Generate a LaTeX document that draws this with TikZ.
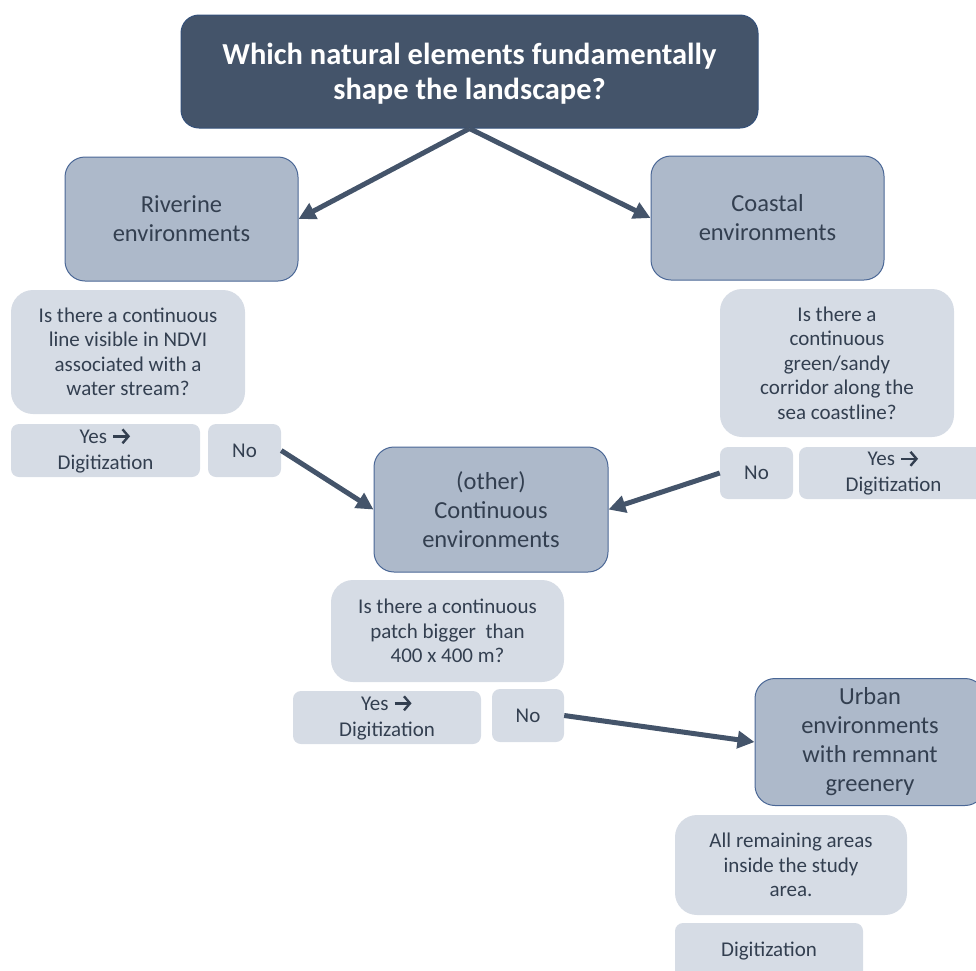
\documentclass[tikz,border=0pt]{standalone}
\usepackage{fontspec}
\setmainfont{Carlito}
\usetikzlibrary{arrows.meta}
\definecolor{titlefill}{HTML}{44546A}
\definecolor{titleborder}{HTML}{34507A}
\definecolor{envfill}{HTML}{ADB9CA}
\definecolor{envborder}{HTML}{4A6796}
\definecolor{qfill}{HTML}{D6DCE5}
\definecolor{txt}{HTML}{333F50}
\definecolor{arrowc}{HTML}{44546A}
\newcommand{\ra}{\tikz[baseline=-7pt]\draw[txt, line width=2.4pt, -{Straight Barb[length=6pt,width=14pt,line width=2.4pt]}] (0pt,0pt) -- (17pt,0pt);}
\begin{document}
\begin{tikzpicture}[x=1pt,y=-1pt,
  mainq/.style={rounded corners=18pt, fill=titlefill, draw=titleborder, line width=1pt, text=white,
    font=\fontsize{30.5}{35}\selectfont\bfseries, align=center, inner sep=0pt},
  envbox/.style={rounded corners=20pt, fill=envfill, draw=envborder, line width=1pt, text=txt,
    font=\fontsize{24.5}{29}\selectfont, align=center, inner sep=0pt},
  qbox/.style={rounded corners=22pt, fill=qfill, text=txt,
    font=\fontsize{21}{24.5}\selectfont, align=center, inner sep=0pt},
  ansbox/.style={rounded corners=8pt, fill=qfill, text=txt,
    font=\fontsize{21}{26}\selectfont, align=center, inner sep=0pt},
  link/.style={draw=arrowc, line width=5pt, -{Triangle[length=17pt,width=17pt]}}
]
\useasboundingbox (0,0) rectangle (976,970);
\clip (0,0) rectangle (976,970);

\node[mainq, minimum width=577, minimum height=113, text depth=-3pt] (title) at (469.5,71.5)
  {Which natural elements fundamentally\\shape the landscape?};

\node[envbox, minimum width=233, minimum height=124] (riv) at (181.5,219) {Riverine\\environments};
\node[envbox, minimum width=233, minimum height=124] (coast) at (767.5,218) {Coastal\\environments};

\node[qbox, minimum width=234, minimum height=124] (qriv) at (128,352)
  {Is there a continuous\\line visible in NDVI\\associated with a\\water stream?};
\node[ansbox, minimum width=189, minimum height=53] (yesL) at (105.5,450.5) {Yes \ra\\Digitization};
\node[ansbox, minimum width=73, minimum height=53] (noL) at (244.5,450.5) {No};

\node[qbox, minimum width=234, minimum height=148] (qcoast) at (837,363)
  {Is there a\\continuous\\green/sandy\\corridor along the\\sea coastline?};
\node[ansbox, minimum width=73, minimum height=52] (noR) at (756.5,473) {No};
\node[ansbox, minimum width=189, minimum height=52] (yesR) at (893.5,473) {Yes \ra\\Digitization};

\node[envbox, minimum width=234, minimum height=125] (other) at (491,509.5)
  {(other)\\Continuous\\environments};

\node[qbox, minimum width=233, minimum height=102] (qpatch) at (447.5,631)
  {Is there a continuous\\patch bigger\ \ than\\400 x 400 m?};
\node[ansbox, minimum width=188, minimum height=53] (yesB) at (387,717.5) {Yes \ra\\Digitization};
\node[ansbox, minimum width=72, minimum height=53] (noB) at (528,715.5) {No};

\node[envbox, minimum width=230, minimum height=127] (urban) at (870,742)
  {Urban\\environments\\with remnant\\greenery};
\node[qbox, minimum width=232, minimum height=100] (qall) at (791,865)
  {All remaining areas\\inside the study\\area.};
\node[ansbox, minimum width=188, minimum height=56] (dig) at (769,951) {Digitization};

\draw[link] (title.south) -- (riv.east);
\draw[link] (title.south) -- (coast.west);
\draw[link] (noL.east) -- (other.west);
\draw[link] (noR.west) -- (other.east);
\draw[link] (noB.east) -- (urban.west);
\end{tikzpicture}
\end{document}
